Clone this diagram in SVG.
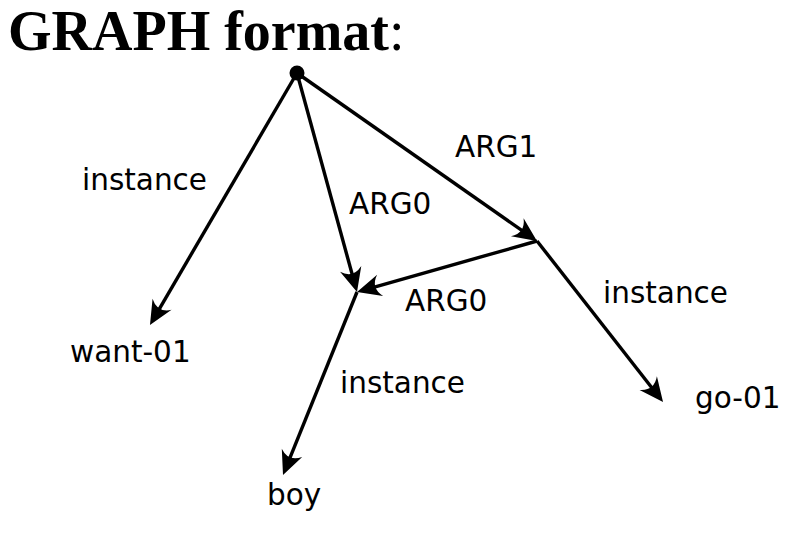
<svg xmlns="http://www.w3.org/2000/svg" width="792" height="535" viewBox="0 0 792 535">
<style>
.title{font-family:"Liberation Serif","Times New Roman",serif;font-size:56px;fill:#000}
.lbl{font-family:"DejaVu Sans",sans-serif;font-size:29.5px;fill:#000}
.edge{stroke:#000;stroke-width:3.4;fill:none;marker-end:url(#ah)}
</style>
<defs>
<marker id="ah" markerUnits="userSpaceOnUse" orient="auto" refX="0" refY="0" markerWidth="40" markerHeight="40" overflow="visible">
<path d="M8,0 L-16,-11 Q-6,0 -16,11 Z" fill="#000"/>
</marker>
</defs>
<rect width="792" height="535" fill="#fff"/>
<text class="title" x="8" y="50"><tspan font-weight="bold">GRAPH format</tspan>:</text>
<g id="connectors">
<line class="edge" x1="297" y1="73" x2="154" y2="318.1"/>
<line class="edge" x1="297" y1="73" x2="354.9" y2="284.3"/>
<line class="edge" x1="297" y1="73" x2="530.4" y2="236.4"/>
<line class="edge" x1="537" y1="241" x2="364.7" y2="289.8"/>
<line class="edge" x1="537" y1="241" x2="658.1" y2="395.7"/>
<line class="edge" x1="357" y1="292" x2="286" y2="467.6"/>
<text class="lbl" x="82" y="190">instance</text>
<text class="lbl" x="349" y="214">ARG0</text>
<text class="lbl" x="455" y="157">ARG1</text>
<text class="lbl" x="405" y="311">ARG0</text>
<text class="lbl" x="603" y="303">instance</text>
<text class="lbl" x="340" y="393">instance</text>
</g>
<g id="root"><circle cx="297" cy="73" r="7.5" fill="#000"/></g>
<g id="want-01"><text class="lbl" x="70" y="362">want-01</text></g>
<g id="boy"><text class="lbl" x="267" y="505">boy</text></g>
<g id="go-01"><text class="lbl" x="695" y="408">go-01</text></g>
</svg>
